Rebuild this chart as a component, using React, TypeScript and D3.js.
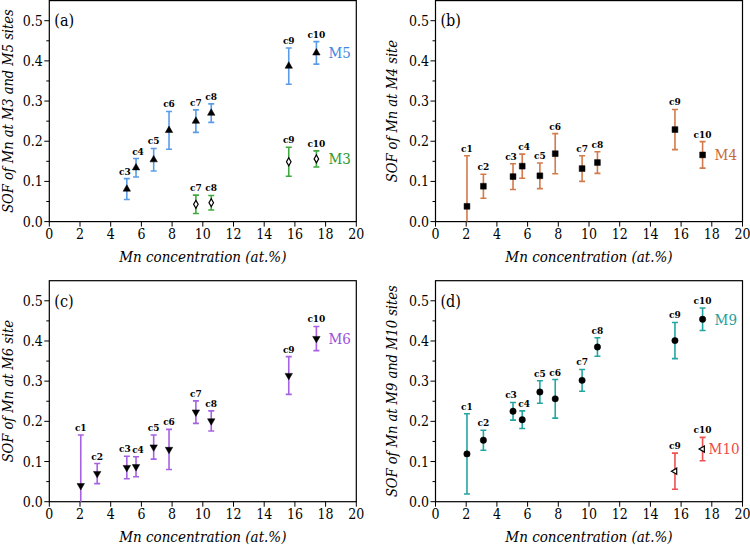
import React from "react";
import * as d3 from "d3";

// ---------- data ----------
const sampleNames = ["c1", "c2", "c3", "c4", "c5", "c6", "c7", "c8", "c9", "c10"];
const mnConcentration = [2.05, 3.12, 5.05, 5.65, 6.8, 7.8, 9.55, 10.55, 15.6, 17.4];

const xTicks = [0, 2, 4, 6, 8, 10, 12, 14, 16, 18, 20];
const yTicks = [0, 0.1, 0.2, 0.3, 0.4, 0.5];
const yMinorTicks = [0.05, 0.15, 0.25, 0.35, 0.45];

// (a) M5 and M3
const m5Samples = ["c3", "c4", "c5", "c6", "c7", "c8", "c9", "c10"];
const m5Values = [0.081, 0.134, 0.154, 0.227, 0.25, 0.27, 0.387, 0.42];
const m5Errors = [0.026, 0.023, 0.028, 0.047, 0.028, 0.023, 0.045, 0.028];

const m3Samples = ["c7", "c8", "c9", "c10"];
const m3Values = [0.043, 0.047, 0.149, 0.156];
const m3Errors = [0.023, 0.018, 0.036, 0.02];

// (b) M4
const m4Samples = ["c1", "c2", "c3", "c4", "c5", "c6", "c7", "c8", "c9", "c10"];
const m4Values = [0.038, 0.088, 0.112, 0.138, 0.114, 0.169, 0.132, 0.147, 0.229, 0.166];
const m4Errors = [0.126, 0.03, 0.032, 0.03, 0.032, 0.05, 0.032, 0.027, 0.05, 0.033];

// (c) M6
const m6Samples = ["c1", "c2", "c3", "c4", "c5", "c6", "c7", "c8", "c9", "c10"];
const m6Values = [0.04, 0.07, 0.085, 0.087, 0.136, 0.13, 0.223, 0.201, 0.314, 0.406];
const m6Errors = [0.126, 0.025, 0.028, 0.025, 0.03, 0.05, 0.028, 0.025, 0.047, 0.03];

// (d) M9 and M10
const m9Samples = ["c1", "c2", "c3", "c4", "c5", "c6", "c7", "c8", "c9", "c10"];
const m9Values = [0.119, 0.153, 0.225, 0.204, 0.273, 0.256, 0.302, 0.385, 0.401, 0.454];
const m9Errors = [0.1, 0.025, 0.022, 0.022, 0.028, 0.048, 0.027, 0.023, 0.045, 0.028];

const m10Samples = ["c9", "c10"];
const m10Values = [0.076, 0.131];
const m10Errors = [0.045, 0.029];

// ---------- layout / styles ----------
const W = 750;
const H = 545;
const PW = 307;
const PH = 221;
const FONT = "DejaVu Serif Condensed, DejaVu Serif, serif";
const labelShift: Record<string, number> = { c3: -2, c4: 2 };

type Series = {
  name: string;
  samples: string[];
  values: number[];
  errors: number[];
  color: string;
  labelColor: string;
  marker: "up" | "down" | "square" | "circle" | "diamond" | "left";
  labelDx: number;
};

type Panel = {
  tag: string;
  yTitle: string;
  left: number;
  top: number;
  titleOffset: number;
  series: Series[];
};

const panels: Panel[] = [
  {
    tag: "(a)",
    yTitle: "SOF of Mn at M3 and M5 sites",
    left: 49.3,
    top: 0.6,
    titleOffset: -36,
    series: [
      { name: "M5", samples: m5Samples, values: m5Values, errors: m5Errors, color: "#5b9ce8", labelColor: "#3f87e2", marker: "up", labelDx: 12 },
      { name: "M3", samples: m3Samples, values: m3Values, errors: m3Errors, color: "#3fa83f", labelColor: "#2f9a2f", marker: "diamond", labelDx: 12 },
    ],
  },
  {
    tag: "(b)",
    yTitle: "SOF of Mn at M4 site",
    left: 435.5,
    top: 0.6,
    titleOffset: -39,
    series: [
      { name: "M4", samples: m4Samples, values: m4Values, errors: m4Errors, color: "#d27a4c", labelColor: "#c8693a", marker: "square", labelDx: 12 },
    ],
  },
  {
    tag: "(c)",
    yTitle: "SOF of Mn at M6 site",
    left: 49.3,
    top: 280.7,
    titleOffset: -36,
    series: [
      { name: "M6", samples: m6Samples, values: m6Values, errors: m6Errors, color: "#a662e2", labelColor: "#9a52dc", marker: "down", labelDx: 12 },
    ],
  },
  {
    tag: "(d)",
    yTitle: "SOF of Mn at M9 and M10 sites",
    left: 435.5,
    top: 280.7,
    titleOffset: -39,
    series: [
      { name: "M9", samples: m9Samples, values: m9Values, errors: m9Errors, color: "#25a5a2", labelColor: "#1ea09c", marker: "circle", labelDx: 12 },
      { name: "M10", samples: m10Samples, values: m10Values, errors: m10Errors, color: "#f05050", labelColor: "#f04848", marker: "left", labelDx: 6 },
    ],
  },
];

function markerPath(kind: Series["marker"]): { d: string; rotate: number; open: boolean } {
  switch (kind) {
    case "up":
      return { d: d3.symbol(d3.symbolTriangle, 24)()!, rotate: 0, open: false };
    case "down":
      return { d: d3.symbol(d3.symbolTriangle, 24)()!, rotate: 180, open: false };
    case "square":
      return { d: d3.symbol(d3.symbolSquare, 34)()!, rotate: 0, open: false };
    case "circle":
      return { d: d3.symbol(d3.symbolCircle, 32)()!, rotate: 0, open: false };
    case "diamond":
      return { d: d3.symbol(d3.symbolDiamond, 18)()!, rotate: 0, open: true };
    case "left":
      return { d: d3.symbol(d3.symbolTriangle, 16)()!, rotate: -90, open: true };
  }
}

function PanelView({ p, idx }: { p: Panel; idx: number }) {
  const x = d3.scaleLinear().domain([0, 20]).range([0, PW]);
  const y = d3.scaleLinear().domain([0, 0.55]).range([PH, 0]);
  const clipId = `clip-${idx}`;
  const xOf = (s: string) => mnConcentration[sampleNames.indexOf(s)];

  return (
    <g transform={`translate(${p.left},${p.top})`} fontFamily={FONT}>
      <defs>
        <clipPath id={clipId}>
          <rect x={0} y={0} width={PW} height={PH} />
        </clipPath>
      </defs>
      {/* frame */}
      <rect x={0} y={0} width={PW} height={PH} fill="none" stroke="#000" strokeWidth={1.2} />

      {/* y axis ticks */}
      {yTicks.map((t) => (
        <g key={`y${t}`}>
          <line x1={-5} x2={0} y1={y(t)} y2={y(t)} stroke="#000" strokeWidth={1} />
          <text x={-6.5} y={y(t)} dy="0.36em" textAnchor="end" fontFamily={FONT} fontSize={14}>
            {d3.format(".1f")(t)}
          </text>
        </g>
      ))}
      {yMinorTicks.map((t) => (
        <line key={`ym${t}`} x1={-3} x2={0} y1={y(t)} y2={y(t)} stroke="#000" strokeWidth={1} />
      ))}
      {/* x axis ticks */}
      {xTicks.map((t) => (
        <g key={`x${t}`}>
          <line x1={x(t)} x2={x(t)} y1={PH} y2={PH + 5} stroke="#000" strokeWidth={1} />
          <text x={x(t)} y={PH + 17.5} textAnchor="middle" fontFamily={FONT} fontSize={14}>
            {t}
          </text>
        </g>
      ))}

      {/* axis titles */}
      <text x={PW / 2} y={PH + 40} textAnchor="middle" fontFamily={FONT} fontSize={15} fontStyle="italic">
        Mn concentration (at.%)
      </text>
      <text
        transform={`translate(${p.titleOffset},${PH / 2}) rotate(-90)`}
        textAnchor="middle"
        fontFamily={FONT}
        fontSize={14.5}
        fontStyle="italic"
      >
        {p.yTitle}
      </text>

      {/* panel tag */}
      <text x={5} y={y(0.5)} dy="0.36em" fontFamily={FONT} fontSize={16}>
        {p.tag}
      </text>

      {/* series */}
      {p.series.map((s) => {
        const m = markerPath(s.marker);
        return (
          <g key={s.name}>
            <g clipPath={`url(#${clipId})`}>
              {s.samples.map((c, i) => {
                const cx = x(xOf(c));
                const hi = y(s.values[i] + s.errors[i]);
                const lo = y(s.values[i] - s.errors[i]);
                return (
                  <g key={c} stroke={s.color} strokeWidth={1.6}>
                    <line x1={cx} x2={cx} y1={hi} y2={lo} />
                    <line x1={cx - 3} x2={cx + 3} y1={hi} y2={hi} />
                    <line x1={cx - 3} x2={cx + 3} y1={lo} y2={lo} />
                  </g>
                );
              })}
            </g>
            {s.samples.map((c, i) => {
              const cx = x(xOf(c));
              const cy = y(s.values[i]);
              return (
                <path
                  key={`m${c}`}
                  d={m.d}
                  transform={`translate(${cx},${cy}) rotate(${m.rotate})`}
                  fill={m.open ? "#fff" : "#000"}
                  stroke="#000"
                  strokeWidth={m.open ? 1.2 : 0.5}
                />
              );
            })}
            {s.samples.map((c, i) => {
              const cx = x(xOf(c)) + (labelShift[c] || 0);
              const top = y(s.values[i] + s.errors[i]);
              return (
                <text
                  key={`l${c}`}
                  x={cx}
                  y={top - 4}
                  textAnchor="middle"
                  fontFamily={FONT}
                  fontSize={10}
                  fontWeight="bold"
                >
                  {c}
                </text>
              );
            })}
            {(() => {
              const last = s.samples.length - 1;
              return (
                <text
                  x={x(xOf(s.samples[last])) + s.labelDx}
                  y={y(s.values[last])}
                  dy="0.36em"
                  fill={s.labelColor}
                  fontFamily={FONT}
                  fontSize={15}
                >
                  {s.name}
                </text>
              );
            })()}
          </g>
        );
      })}
    </g>
  );
}

export default function App() {
  return (
    <svg
      width={W}
      height={H}
      viewBox={`0 0 ${W} ${H}`}
      style={{ position: "absolute", left: 0, top: 0, background: "#fff" }}
    >
      <rect width={W} height={H} fill="#fff" />
      {panels.map((p, i) => (
        <PanelView key={p.tag} p={p} idx={i} />
      ))}
    </svg>
  );
}
